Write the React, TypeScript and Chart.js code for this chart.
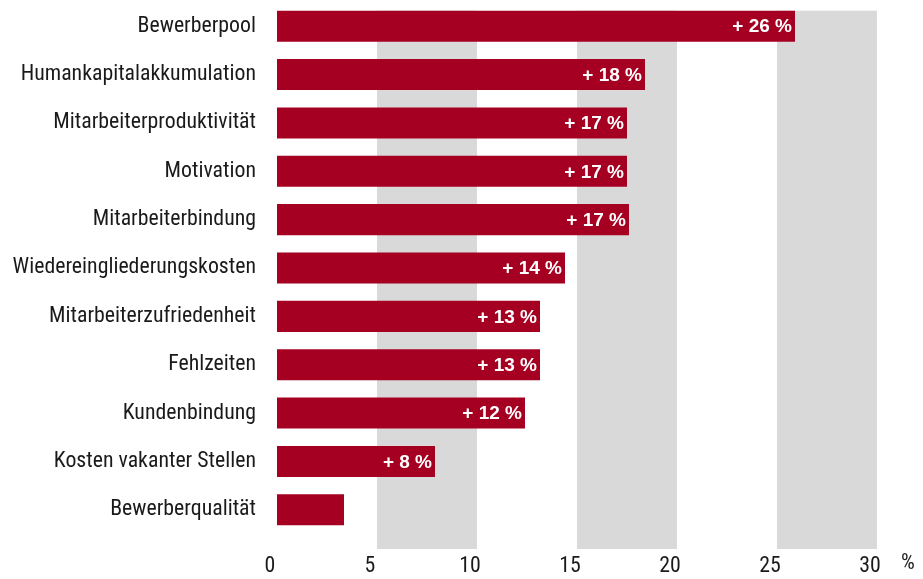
import React, { useEffect, useRef } from 'react';
import { Chart, registerables } from 'chart.js';

Chart.register(...registerables);

const categories = [
  'Bewerberpool',
  'Humankapitalakkumulation',
  'Mitarbeiterproduktivität',
  'Motivation',
  'Mitarbeiterbindung',
  'Wiedereingliederungskosten',
  'Mitarbeiterzufriedenheit',
  'Fehlzeiten',
  'Kundenbindung',
  'Kosten vakanter Stellen',
  'Bewerberqualität',
];

const values = [25.9, 18.4, 17.5, 17.5, 17.6, 14.4, 13.15, 13.15, 12.4, 7.9, 3.35];

const valueLabels = [
  '+ 26 %',
  '+ 18 %',
  '+ 17 %',
  '+ 17 %',
  '+ 17 %',
  '+ 14 %',
  '+ 13 %',
  '+ 13 %',
  '+ 12 %',
  '+ 8 %',
  '',
];

const xMin = 0;
const xMax = 30;
const xStep = 5;
const axisUnit = '%';
const bandRanges: [number, number][] = [
  [5, 10],
  [15, 20],
  [25, 30],
];

const AXIS_FAMILY = 'Roboto, "Liberation Sans", Arial, sans-serif';
const AXIS_STRETCH = 'condensed';
const AXIS_SIZE = 21.8;
const VALUE_FONT = 'bold 19px "Liberation Sans", Arial, sans-serif';
const BAR_COLOR = '#A50021';
const BAND_COLOR = '#D9D9D9';
const TEXT_COLOR = '#1a1a1a';

const bandsPlugin = {
  id: 'bands',
  beforeDatasetsDraw(chart: any) {
    const { ctx, chartArea, scales } = chart;
    const x = scales.x;
    const meta = chart.getDatasetMeta(0);
    const first = meta.data[0];
    const top = first ? first.y - first.height / 2 : chartArea.top;
    const bottom = chartArea.bottom + 15;
    ctx.save();
    ctx.fillStyle = BAND_COLOR;
    bandRanges.forEach(([a, b]) => {
      const x1 = x.getPixelForValue(a);
      const x2 = x.getPixelForValue(b);
      ctx.fillRect(x1, top, x2 - x1, bottom - top);
    });
    ctx.restore();
  },
  afterDatasetsDraw(chart: any) {
    const { ctx } = chart;
    const meta = chart.getDatasetMeta(0);
    ctx.save();
    ctx.fillStyle = '#ffffff';
    ctx.font = VALUE_FONT;
    ctx.textAlign = 'right';
    ctx.textBaseline = 'middle';
    meta.data.forEach((bar: any, i: number) => {
      const label = valueLabels[i];
      if (!label) return;
      ctx.fillText(label, bar.x - 3, bar.y + 1);
    });
    ctx.restore();
  },
  afterDraw(chart: any) {
    const { ctx, chartArea } = chart;
    ctx.save();
    ctx.fillStyle = TEXT_COLOR;
    ctx.font = `${AXIS_STRETCH} ${AXIS_SIZE}px ${AXIS_FAMILY}`;
    ctx.textAlign = 'center';
    ctx.textBaseline = 'top';
    ctx.fillText(axisUnit, chartArea.right + 31, chartArea.bottom + 19);
    ctx.restore();
  },
};

export default function App() {
  const canvasRef = useRef<HTMLCanvasElement | null>(null);

  useEffect(() => {
    if (!canvasRef.current) return;
    const axisFont = { family: AXIS_FAMILY, size: AXIS_SIZE, weight: AXIS_STRETCH as any };
    const chart = new Chart(canvasRef.current, {
      type: 'bar',
      data: {
        labels: categories,
        datasets: [
          {
            data: values,
            backgroundColor: BAR_COLOR,
            borderWidth: 0,
            barPercentage: 0.642,
            categoryPercentage: 1,
          },
        ],
      },
      options: {
        indexAxis: 'y',
        animation: false,
        responsive: false,
        maintainAspectRatio: false,
        layout: { autoPadding: false, padding: { top: 2, right: 46, bottom: 0, left: 0 } },
        plugins: {
          legend: { display: false },
          tooltip: { enabled: false },
          title: { display: false },
        },
        scales: {
          y: {
            type: 'category',
            grid: { display: false, drawTicks: false },
            border: { display: false },
            ticks: {
              color: TEXT_COLOR,
              font: axisFont,
              padding: 21,
            },
            afterFit(scale: any) {
              scale.width = 277;
              scale.paddingTop = 0;
              scale.paddingBottom = 0;
            },
          },
          x: {
            type: 'linear',
            min: xMin,
            max: xMax,
            grid: { display: false, drawTicks: false },
            border: { display: false },
            ticks: {
              stepSize: xStep,
              color: TEXT_COLOR,
              font: axisFont,
              padding: 19,
              maxRotation: 0,
              labelOffset: -7,
            },
            afterFit(scale: any) {
              scale.height = 45;
              scale.paddingLeft = 0;
              scale.paddingRight = 0;
            },
          },
        },
      },
      plugins: [bandsPlugin],
    });
    return () => chart.destroy();
  }, []);

  return (
    <div style={{ position: 'absolute', left: 0, top: 0, width: 923, height: 579, background: '#fff' }}>
      <canvas ref={canvasRef} width={923} height={579} style={{ width: 923, height: 579 }} />
    </div>
  );
}
